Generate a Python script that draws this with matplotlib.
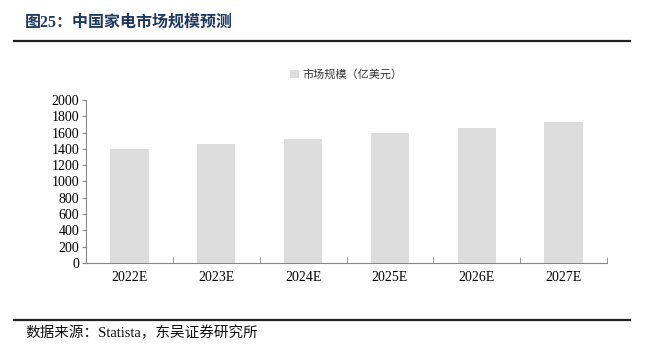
import matplotlib
matplotlib.use("Agg")
import matplotlib.pyplot as plt
from matplotlib.lines import Line2D

categories = ["2022E", "2023E", "2024E", "2025E", "2026E", "2027E"]
market_size = [1400, 1460, 1520, 1590, 1655, 1730]
y_ticks = [0, 200, 400, 600, 800, 1000, 1200, 1400, 1600, 1800, 2000]

title = "图25：中国家电市场规模预测"
source = "数据来源：Statista，东吴证券研究所"
legend_label = "市场规模（亿美元）"

cjk = ["Noto Sans CJK SC", "DejaVu Sans"]
serif = ["Liberation Serif", "Noto Sans CJK SC"]

W, H = 656, 360
fig = plt.figure(figsize=(W / 100, H / 100), dpi=100)

# header / footer rules
fig.add_artist(Line2D([14 / W, 630 / W], [1 - 41 / H, 1 - 41 / H], color="#222222", lw=1.6))
fig.add_artist(Line2D([14 / W, 630 / W], [1 - 320 / H, 1 - 320 / H], color="#222222", lw=1.6))
fig.text(25 / W, 1 - 23 / H, title, family=serif,
         fontsize=11.5, fontweight="bold", color="#1F3A60", va="center", ha="left")
fig.text(25 / W, 1 - 333 / H, source, family=serif,
         fontsize=10.5, color="#111111", va="center", ha="left")

ax = fig.add_axes([86 / W, 1 - 263 / H, (607 - 86) / W, (263 - 100) / H])
x = range(len(categories))
ax.bar(x, market_size, width=0.44, color="#DDDDDD", label=legend_label, zorder=2)

ax.set_xlim(-0.5, len(categories) - 0.5)
ax.set_ylim(0, 2000)
ax.set_yticks(y_ticks)
ax.set_yticklabels([str(v) for v in y_ticks], family=serif, fontsize=10)
ax.set_xticks(list(x))
ax.set_xticklabels(categories, family=serif, fontsize=10)
ax.set_xticks([i + 0.5 for i in range(-1, len(categories))], minor=True)
ax.tick_params(axis="x", which="major", length=0, pad=6)
ax.tick_params(axis="x", which="minor", length=4, direction="in", color="#888888")
ax.tick_params(axis="y", length=3, direction="out", color="#888888", pad=2)

for side in ["top", "right"]:
    ax.spines[side].set_visible(False)
for side in ["left", "bottom"]:
    ax.spines[side].set_color("#888888")
    ax.spines[side].set_linewidth(0.8)

leg = ax.legend(loc="upper center", bbox_to_anchor=(0.5, 1.25), frameon=False,
                prop={"family": cjk, "size": 8}, handlelength=0.8, handleheight=0.8,
                handletextpad=0.3)
for t in leg.get_texts():
    t.set_color("#333333")

fig.savefig("out.png", dpi=100)
